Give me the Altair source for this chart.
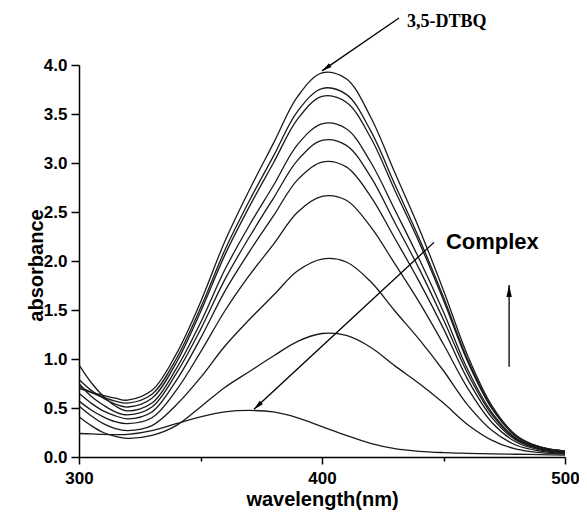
import altair as alt
import pandas as pd

wavelengths = [300, 305, 310, 315, 320, 330, 340, 350, 360, 370, 380, 390,
               400, 410, 420, 430, 440, 450, 460, 470, 480, 490, 500]

curve_1 = [0.70, 0.66, 0.63, 0.60, 0.58, 0.68, 1.05, 1.58, 2.20, 2.72, 3.20, 3.68,
           3.92, 3.86, 3.47, 2.90, 2.33, 1.70, 1.03, 0.52, 0.22, 0.10, 0.06]
curve_2 = [0.72, 0.66, 0.61, 0.57, 0.55, 0.64, 1.00, 1.52, 2.11, 2.61, 3.07, 3.53,
           3.76, 3.70, 3.33, 2.78, 2.23, 1.63, 0.99, 0.50, 0.21, 0.10, 0.06]
curve_3 = [0.79, 0.68, 0.60, 0.54, 0.51, 0.60, 0.96, 1.48, 2.06, 2.55, 3.00, 3.45,
           3.68, 3.62, 3.26, 2.72, 2.19, 1.60, 0.97, 0.49, 0.21, 0.10, 0.06]
curve_4 = [0.94, 0.76, 0.62, 0.52, 0.47, 0.55, 0.90, 1.37, 1.91, 2.36, 2.77, 3.19,
           3.40, 3.35, 3.01, 2.52, 2.02, 1.48, 0.89, 0.45, 0.19, 0.09, 0.05]
curve_5 = [0.75, 0.62, 0.53, 0.46, 0.43, 0.51, 0.85, 1.30, 1.81, 2.24, 2.64, 3.03,
           3.23, 3.18, 2.86, 2.39, 1.92, 1.40, 0.85, 0.43, 0.18, 0.085, 0.05]
curve_6 = [0.65, 0.55, 0.47, 0.42, 0.39, 0.46, 0.78, 1.21, 1.69, 2.09, 2.46, 2.83,
           3.01, 2.96, 2.66, 2.23, 1.79, 1.31, 0.79, 0.40, 0.17, 0.08, 0.045]
curve_7 = [0.57, 0.48, 0.41, 0.36, 0.34, 0.40, 0.68, 1.07, 1.49, 1.85, 2.17, 2.50,
           2.66, 2.62, 2.35, 1.97, 1.58, 1.15, 0.70, 0.35, 0.15, 0.07, 0.04]
curve_8 = [0.52, 0.42, 0.34, 0.29, 0.27, 0.32, 0.53, 0.81, 1.13, 1.40, 1.65, 1.90,
           2.02, 1.99, 1.79, 1.49, 1.20, 0.88, 0.53, 0.27, 0.12, 0.06, 0.035]
curve_9 = [0.41, 0.32, 0.25, 0.21, 0.19, 0.22, 0.32, 0.51, 0.71, 0.87, 1.03, 1.18,
           1.26, 1.24, 1.12, 0.93, 0.75, 0.55, 0.33, 0.17, 0.08, 0.045, 0.03]
complex_curve = [0.24, 0.235, 0.23, 0.228, 0.23, 0.27, 0.34, 0.41, 0.46, 0.475, 0.46, 0.40,
                 0.31, 0.22, 0.14, 0.085, 0.058, 0.045, 0.038, 0.032, 0.028, 0.024, 0.02]

x_tick_values = [300, 350, 400, 450, 500]
y_tick_values = [0, 0.25, 0.5, 0.75, 1.0, 1.25, 1.5, 1.75, 2.0, 2.25, 2.5, 2.75,
                 3.0, 3.25, 3.5, 3.75, 4.0]

# annotation arrows: start point, tip point, head angle, head size
arrow_x_start = [431.7, 446.1, 477.0]
arrow_y_start = [4.48, 2.19, 0.92]
arrow_x_tip = [400.0, 372.0, 477.0]
arrow_y_tip = [3.94, 0.487, 1.755]
arrow_angle = [235.6, 227.2, 0.0]
arrow_head_size = [100, 100, 144]

label_dtbq = ["3,5-DTBQ"]
label_dtbq_x = [435.0]
label_dtbq_y = [4.44]
label_complex = ["Complex"]
label_complex_x = [451.0]
label_complex_y = [2.12]

series = {
    "c1": curve_1, "c2": curve_2, "c3": curve_3, "c4": curve_4, "c5": curve_5,
    "c6": curve_6, "c7": curve_7, "c8": curve_8, "c9": curve_9, "complex": complex_curve,
}
rows = []
for name, vals in series.items():
    for w, a in zip(wavelengths, vals):
        rows.append({"curve": name, "wavelength": w, "absorbance": a})
df = pd.DataFrame(rows)

arrows = pd.DataFrame({
    "x": arrow_x_start, "y": arrow_y_start,
    "x2": arrow_x_tip, "y2": arrow_y_tip,
    "angle": arrow_angle, "size": arrow_head_size,
})

FONT = "Liberation Sans"

xscale = alt.Scale(domain=[300, 500], nice=False, zero=False)
yscale = alt.Scale(domain=[0, 4], nice=False, zero=False)

x_axis = alt.Axis(
    values=x_tick_values,
    labelExpr="datum.value % 100 == 0 ? datum.label : ''",
    tickSize=alt.condition("datum.value % 100 == 0", alt.value(7), alt.value(4)),
    labelFont=FONT, labelFontSize=17, labelFontWeight="bold", labelColor="black",
    labelPadding=6, labelFlush=False, labelOverlap=False,
    title="wavelength(nm)", titleFont=FONT, titleFontSize=20, titleFontWeight="bold",
    titleColor="black", titleY=48, titleBaseline="alphabetic",
    domainColor="black", domainWidth=1.5, tickColor="black", tickWidth=1.5,
    grid=False, format="d",
)
y_axis = alt.Axis(
    values=y_tick_values,
    labelExpr="(datum.value * 2) % 1 == 0 ? format(datum.value, '.1f') : ''",
    tickSize=alt.condition("(datum.value * 2) % 1 == 0", alt.value(8), alt.value(4)),
    labelFont=FONT, labelFontSize=17, labelFontWeight="bold", labelColor="black",
    labelPadding=4, labelFlush=False, labelOverlap=False,
    title="absorbance", titleFont=FONT, titleFontSize=20, titleFontWeight="bold",
    titleColor="black", titleX=-37, titleY=200, titleBaseline="alphabetic",
    domainColor="black", domainWidth=1.5, tickColor="black", tickWidth=1.5,
    grid=False,
)

lines = alt.Chart(df).mark_line(
    color="#1a1a1a", strokeWidth=1.3, interpolate="catmull-rom"
).encode(
    x=alt.X("wavelength:Q", scale=xscale, axis=x_axis),
    y=alt.Y("absorbance:Q", scale=yscale, axis=y_axis),
    detail="curve:N",
)

arrow_lines = alt.Chart(arrows).mark_rule(color="black", strokeWidth=1.3).encode(
    x=alt.X("x:Q", scale=xscale), y=alt.Y("y:Q", scale=yscale),
    x2="x2:Q", y2="y2:Q",
)

arrow_heads = alt.Chart(arrows).mark_point(
    shape="M0,0 L0.45,2 L-0.45,2 Z", filled=True, color="black", opacity=1, strokeWidth=0
).encode(
    x=alt.X("x2:Q", scale=xscale), y=alt.Y("y2:Q", scale=yscale),
    angle=alt.Angle("angle:Q", scale=None),
    size=alt.Size("size:Q", scale=None),
)

dtbq_text = alt.Chart(pd.DataFrame({"t": label_dtbq, "x": label_dtbq_x, "y": label_dtbq_y})).mark_text(
    font="Liberation Serif", fontSize=18, fontWeight="bold", align="left",
    baseline="middle", color="black",
).encode(x=alt.X("x:Q", scale=xscale), y=alt.Y("y:Q", scale=yscale), text="t:N")

complex_text = alt.Chart(pd.DataFrame({"t": label_complex, "x": label_complex_x, "y": label_complex_y})).mark_text(
    font=FONT, fontSize=22, fontWeight="bold", align="left",
    baseline="alphabetic", color="black",
).encode(x=alt.X("x:Q", scale=xscale), y=alt.Y("y:Q", scale=yscale), text="t:N")

chart = alt.layer(lines, arrow_lines, arrow_heads, dtbq_text, complex_text).properties(
    width=486, height=392,
    autosize=alt.AutoSizeParams(type="none"),
    padding={"left": 71, "top": 57, "right": 14, "bottom": 54},
    background="white",
).configure_view(strokeWidth=0)

chart.save("out.html", embed_options={"renderer": "svg", "actions": False})
